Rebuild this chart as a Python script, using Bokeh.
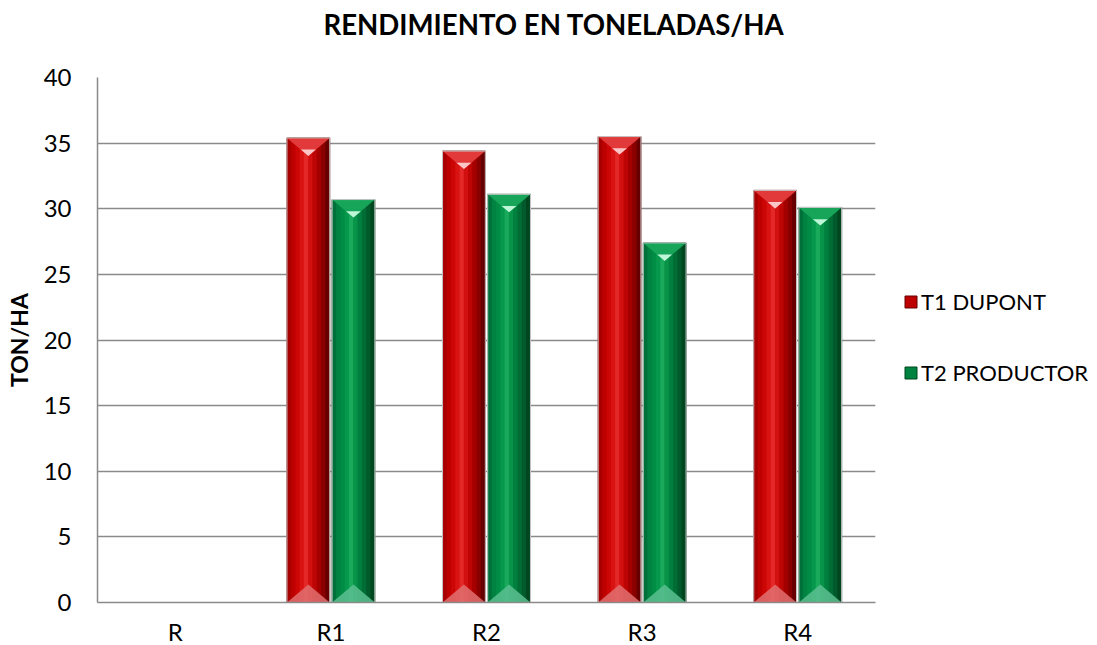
from bokeh.plotting import figure
from bokeh.models import Range1d, FixedTicker, Legend, LegendItem
from bokeh.embed import file_html
from bokeh.resources import INLINE

# ---------------- data ----------------
categories = ["R", "R1", "R2", "R3", "R4"]
t1_dupont = [0, 35.4, 34.4, 35.5, 31.4]
t2_productor = [0, 30.7, 31.1, 27.4, 30.1]
series_names = ["T1 DUPONT", "T2 PRODUCTOR"]
y_ticks = [0, 5, 10, 15, 20, 25, 30, 35, 40]
title_text = "RENDIMIENTO EN TONELADAS/HA"

# ---------------- styles ----------------
FONT = "Lato"
GRID = "#8a8a8a"
red_shades = ["#a80000", "#bd0000", "#cc0505", "#d91212", "#e42828",
              "#d31010", "#be0505", "#a50000", "#880000", "#660000"]
green_shades = ["#00703a", "#008240", "#008c45", "#06984c", "#1aaa5c",
                "#089448", "#007f3e", "#006d35", "#005a2c", "#00461f"]
red_cap, red_cap_hi, red_bot = "#e23a3a", "#ffd6d6", "#e07070"
green_cap, green_cap_hi, green_bot = "#17a55a", "#d0ffe6", "#5cc090"

BAR_W = 0.275
OFFS = [-0.145, 0.145]
FRAME_H = 525
Y_MAX = 40
cap_h = 18 * Y_MAX / FRAME_H

p = figure(frame_width=778, frame_height=FRAME_H, output_backend="svg", toolbar_location=None,
           x_range=Range1d(0, len(categories)), y_range=Range1d(0, Y_MAX),
           min_border_left=97, min_border_right=222, min_border_top=77,
           min_border_bottom=43)
p.outline_line_color = None
p.background_fill_color = "white"

# title (a blank second line lifts the title away from the frame)
p.title.text = title_text + "\n "
p.title.align = "left"
p.title.offset = 226
p.title.vertical_align = "bottom"
p.title.standoff = 0
p.title.text_line_height = 1.12
p.title.text_font = FONT
p.title.text_font_style = "bold"
p.title.text_font_size = "27.6px"
p.title.text_color = "black"

# axes
centers = [i + 0.5 for i in range(len(categories))]
xax = p.below[0]
xax.ticker = FixedTicker(ticks=centers)
xax.major_label_overrides = {c: lab for c, lab in zip(centers, categories)}
xax.major_tick_line_color = None
xax.minor_tick_line_color = None
xax.axis_line_color = GRID
xax.axis_line_width = 1.5
xax.major_label_standoff = 8
xax.major_label_text_font = FONT
xax.major_label_text_font_size = "24px"
xax.major_label_text_color = "black"

p.yaxis.ticker = FixedTicker(ticks=y_ticks)
p.yaxis.major_tick_line_color = None
p.yaxis.minor_tick_line_color = None
p.yaxis.axis_line_color = GRID
p.yaxis.axis_line_width = 1.5
p.yaxis.major_label_standoff = 20
p.yaxis.major_label_text_font = FONT
p.yaxis.major_label_text_font_size = "24px"
p.yaxis.major_label_text_color = "black"
p.yaxis.axis_label = "TON/HA"
p.yaxis.axis_label_text_font = FONT
p.yaxis.axis_label_text_font_style = "bold"
p.yaxis.axis_label_text_font_size = "23px"
p.yaxis.axis_label_text_color = "black"
p.yaxis.axis_label_standoff = 8

p.xgrid.grid_line_color = None
p.ygrid.grid_line_color = GRID
p.ygrid.grid_line_width = 1.5

# bars
legend_items = []
series = [(t1_dupont, red_shades, red_cap, red_cap_hi, red_bot),
          (t2_productor, green_shades, green_cap, green_cap_hi, green_bot)]
N = len(red_shades)
for (vals, shades, capc, caphi, botc), off, name in zip(series, OFFS, series_names):
    xs = [c + off for c in centers]
    base = p.vbar(x=xs, top=vals, width=BAR_W, fill_color=shades[1],
                  line_color=shades[-1], line_width=1)
    for k, col in enumerate(shades):
        sx = [x - BAR_W / 2 + (k + 0.5) * BAR_W / N for x in xs]
        p.vbar(x=sx, top=vals, width=BAR_W / N * 1.08, fill_color=col, line_color=None)
    # caps
    pos = [(x, v) for x, v in zip(xs, vals) if v > 0]
    h = BAR_W / 2
    p.patches(xs=[[x - h, x + h, x] for x, v in pos],
              ys=[[v, v, v - cap_h] for x, v in pos],
              fill_color=capc, line_color=None)
    p.patches(xs=[[x - h * 0.35, x + h * 0.35, x] for x, v in pos],
              ys=[[v - cap_h * 0.65, v - cap_h * 0.65, v - cap_h] for x, v in pos],
              fill_color=caphi, fill_alpha=0.9, line_color=None)
    p.patches(xs=[[x - h, x + h, x] for x, v in pos],
              ys=[[0, 0, cap_h] for x, v in pos],
              fill_color=botc, fill_alpha=0.85, line_color=None)
    p.vbar(x=xs, top=vals, width=BAR_W, fill_color=None,
           line_color="#c8c8c8", line_width=1)
    legend_items.append(LegendItem(label=name, renderers=[base]))

legend = Legend(items=legend_items, location=(28, 216))
legend.border_line_color = None
legend.background_fill_alpha = 0
legend.padding = 0
legend.margin = 0
legend.glyph_width = 15
legend.glyph_height = 15
legend.label_height = 24
legend.label_standoff = 3
legend.spacing = 44
legend.label_text_font = FONT
legend.label_text_font_size = "22px"
legend.label_text_color = "black"
p.add_layout(legend, "right")

open("out.html", "w").write(file_html(p, INLINE))
